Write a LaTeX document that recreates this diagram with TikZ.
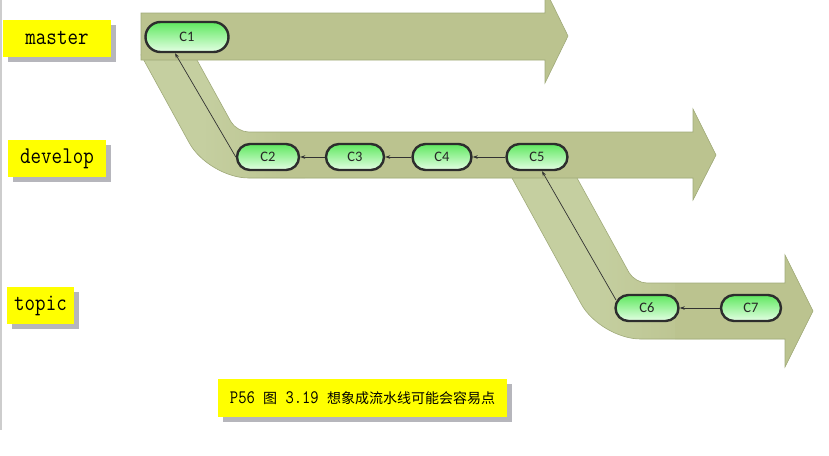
\documentclass[tikz,border=0pt]{standalone}
\usepackage{fontspec}
\newfontfamily\cjk{Noto Sans CJK SC}
\newfontfamily\commitfont{Carlito}
\usetikzlibrary{arrows.meta,shadows,fadings}
\definecolor{bandfill}{RGB}{187,195,143}
\definecolor{bandlight}{RGB}{197,207,160}
\definecolor{bandedge}{RGB}{160,170,122}
\definecolor{ctop}{RGB}{95,232,95}
\definecolor{cbot}{RGB}{228,255,228}
\definecolor{cedge}{RGB}{45,45,45}
\definecolor{linkcol}{RGB}{50,50,50}
\definecolor{labelyellow}{RGB}{255,255,0}
\definecolor{shadowgray}{RGB}{182,182,188}
\definecolor{leftrule}{RGB}{205,205,205}
\newcommand\monotext[2]{\scalebox{0.85}[1]{\fontsize{#1}{#1}\selectfont\ttfamily #2}}
\pgfdeclarelayer{bands}
\pgfdeclarelayer{links}
\pgfsetlayers{bands,links,main}
\tikzset{
  bandedgeline/.style={draw=bandedge, line width=0.6pt, line join=miter},
  commit/.style={rectangle, rounded corners=13pt, draw=cedge, line width=2.4pt,
    top color=ctop, bottom color=cbot, minimum height=26pt, inner sep=0pt,
    font=\commitfont\fontsize{14.5}{15}\selectfont, text=black!85},
  conn/.style={draw=linkcol, line width=0.7pt, -{Stealth[length=5pt,width=3.5pt]}},
  tag/.style={fill=labelyellow, inner sep=0pt, minimum height=37pt,
    drop shadow={shadow xshift=5pt, shadow yshift=-5pt, fill=shadowgray, opacity=1}},
}
\def\bandB{(507.6,170) -- (581.2,304) .. controls (591.8,323.3) and (618.5,339) .. (640.5,339)
  -- (785,339) -- (785,367) -- (813,311) -- (785,255) -- (785,283) -- (646.75,283)
  .. controls (640.2,283) and (632.15,278.3) .. (628.97,272.5) -- (572.6,170) -- cycle}
\def\bandA{(141,55) -- (189.3,143) .. controls (199.9,162.3) and (226.6,178) .. (248.6,178)
  -- (693,178) -- (693,200) -- (716,155) -- (693,109) -- (693,132) -- (248.6,132)
  .. controls (242,132) and (234,127.3) .. (230.8,121.5) -- (194.2,55) -- cycle}
\begin{document}
\begin{tikzpicture}[x=1pt,y=-1pt]
\useasboundingbox (0,0) rectangle (829,455);
\clip (0,0) rectangle (829,455);

\draw[line width=2pt, leftrule] (1,0) -- (1,430);

% commits
\node[commit, rounded corners=15pt, minimum width=83pt, minimum height=30pt] (c1) at (187,37) {C1};
\node[commit, minimum width=62pt] (c2) at (268,157) {C2};
\node[commit, minimum width=58pt] (c3) at (355,157) {C3};
\node[commit, minimum width=59pt] (c4) at (442,157) {C4};
\node[commit, minimum width=61pt] (c5) at (537,157) {C5};
\node[commit, minimum width=63pt] (c6) at (647,308) {C6};
\node[commit, minimum width=60pt] (c7) at (751,308) {C7};

\begin{pgfonlayer}{bands}
% develop -> topic band
\fill[bandlight] \bandB;
\begin{scope}
  \clip \bandB;
  \fill[bandfill, path fading=west] (600,240) rectangle (700,380);
  \fill[bandfill] (675,240) rectangle (820,380);
\end{scope}
\path[bandedgeline] \bandB;
% master -> develop band
\fill[bandlight] \bandA;
\begin{scope}
  \clip \bandA;
  \fill[bandfill, path fading=west] (205,100) rectangle (305,210);
  \fill[bandfill] (280,100) rectangle (720,210);
\end{scope}
\path[bandedgeline] \bandA;
% master arrow
\path[bandedgeline, fill=bandfill] (141,13) -- (545,13) -- (545,-11) -- (568,36) -- (545,83) -- (545,60) -- (141,60) -- cycle;
\end{pgfonlayer}

\begin{pgfonlayer}{links}
\draw[conn] (c2.west) -- ([xshift=-12pt]c1.south);
\draw[conn] (c3.west) -- (c2.east);
\draw[conn] (c4.west) -- (c3.east);
\draw[conn] (c5.west) -- (c4.east);
\path (c6.center) ++(-31,-8) coordinate (c6s);
\draw[conn] (c6s) -- ([xshift=5pt]c5.south);
\draw[conn] (c7.west) -- (c6.east);
\end{pgfonlayer}

% branch labels
\node[tag, minimum width=108pt] (lmaster) at (57,38) {\monotext{24}{master}};
\node[tag, minimum width=98pt] (ldevelop) at (57,158.5) {\monotext{24}{develop}};
\node[tag, minimum width=67pt] (ltopic) at (40.5,305.5) {\monotext{24}{topic}};

% caption
\node[tag, minimum width=289pt, minimum height=38pt] (caption) at (362.5,398)
  {\monotext{19}{P56\ }{\cjk\fontsize{14}{15}\selectfont 图}\monotext{19}{\ 3.19\ }{\cjk\fontsize{14}{15}\selectfont 想象成流水线可能会容易点}};
\end{tikzpicture}
\end{document}
